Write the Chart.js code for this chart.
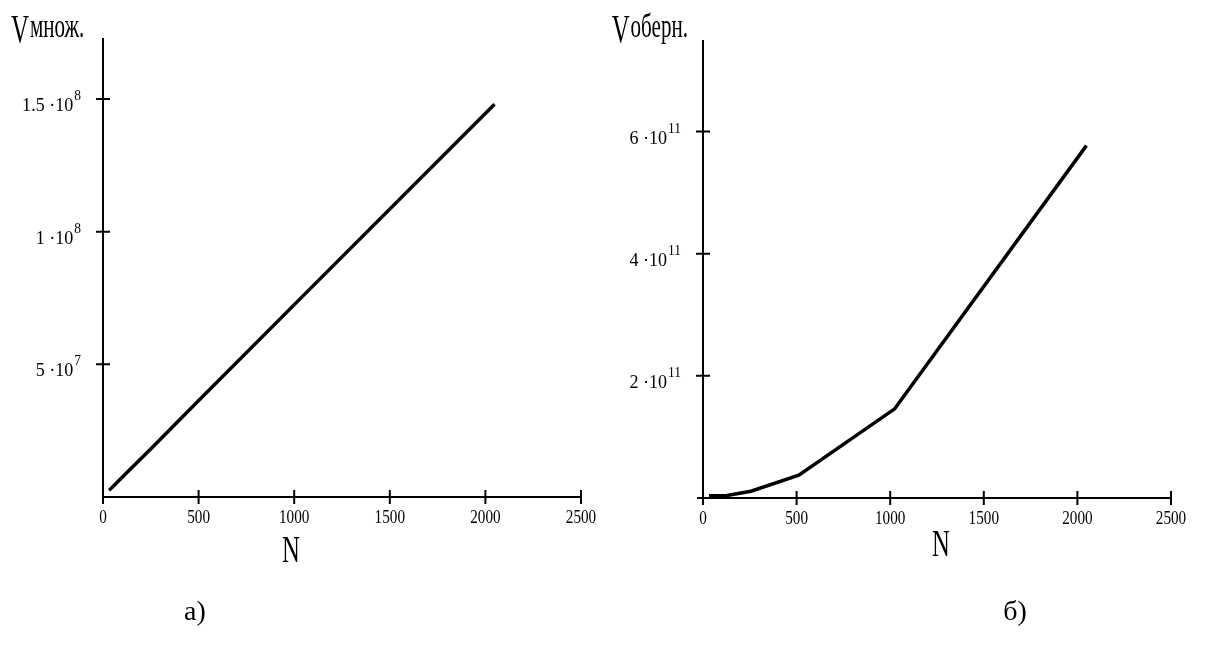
<!DOCTYPE html>
<html>
<head>
<meta charset="utf-8">
<script src="https://cdn.jsdelivr.net/npm/chart.js@4"></script>
<style>
  body { margin: 0; background: #fff; width: 1205px; height: 650px; overflow: hidden; position: relative; }
  .box { position: absolute; top: 0; height: 650px; }
</style>
</head>
<body>
<div class="box" style="left:0;width:600px"><canvas id="chartA" width="600" height="650"></canvas></div>
<div class="box" style="left:600px;width:605px"><canvas id="chartB" width="605" height="650"></canvas></div>
<script>
// N values (matrix size) and the two measured series
var nValues = [32, 64, 128, 256, 512, 1024, 2048];
var multValues = [2.5e6, 4.8e6, 9.4e6, 1.86e7, 3.72e7, 7.42e7, 1.48e8];
var invValues = [3.5e9, 3.6e9, 4.2e9, 1.1e10, 3.75e10, 1.46e11, 5.77e11];

// tick labels
var xTicks = [0, 500, 1000, 1500, 2000, 2500];
var multTicks = [5e7, 1e8, 1.5e8];
var multTickMant = ['5', '1', '1.5'];
var multTickExp = ['7', '8', '8'];
var invTicks = [2e11, 4e11, 6e11];
var invTickMant = ['2', '4', '6'];
var invTickExp = ['11', '11', '11'];

var SERIF = '"Liberation Serif", "Times New Roman", serif';

function txt(ctx, s, x, y, size, align, sx) {
  ctx.save();
  ctx.font = size + 'px ' + SERIF;
  ctx.textAlign = align;
  ctx.textBaseline = 'alphabetic';
  ctx.translate(x, y);
  ctx.scale(sx, 1);
  ctx.fillText(s, 0, 0);
  ctx.restore();
}

function wid(ctx, s, size, sx) {
  ctx.save();
  ctx.font = size + 'px ' + SERIF;
  var w = ctx.measureText(s).width * sx;
  ctx.restore();
  return w;
}

// draws Mathcad-like axes crossing at zero, ticks and all labels
function makeAxes(cfg) {
  return {
    id: 'mathAxes',
    afterDraw: function (chart) {
      var ctx = chart.ctx, xs = chart.scales.x, ys = chart.scales.y;
      var x0 = xs.getPixelForValue(0), y0 = ys.getPixelForValue(0);
      ctx.save();
      ctx.strokeStyle = '#000';
      ctx.fillStyle = '#000';
      ctx.lineWidth = 2;
      ctx.beginPath();
      ctx.moveTo(x0, ys.top); ctx.lineTo(x0, y0 + 1);
      ctx.moveTo(x0 - cfg.xOverhang, y0); ctx.lineTo(xs.right, y0);
      xTicks.forEach(function (v) {
        var px = xs.getPixelForValue(v);
        ctx.moveTo(px, y0 - 7); ctx.lineTo(px, y0 + 7);
      });
      cfg.yTicks.forEach(function (v) {
        var py = ys.getPixelForValue(v);
        ctx.moveTo(x0 - 7, py); ctx.lineTo(x0 + 7, py);
      });
      ctx.stroke();

      xTicks.forEach(function (v) {
        txt(ctx, String(v), xs.getPixelForValue(v), y0 + 26, 19, 'center', 0.8);
      });
      cfg.yTicks.forEach(function (v, i) {
        var py = ys.getPixelForValue(v);
        var right = x0 - 22;
        var we = wid(ctx, cfg.exp[i], 15, 0.9);
        txt(ctx, cfg.exp[i], right, py + 1, 15, 'right', 0.9);
        txt(ctx, cfg.mant[i] + ' \u00b710', right - we - 1, py + 12, 19, 'right', 0.95);
      });

      // axis title V with subscript word
      var wV = wid(ctx, 'V', 40, 0.62);
      var wS = wid(ctx, cfg.sub, 34, 0.62);
      var vx = cfg.titleRight != null ? cfg.titleRight - wV - wS : cfg.titleLeft;
      txt(ctx, 'V', vx, 42, 40, 'left', 0.62);
      txt(ctx, cfg.sub, vx + wV + 1, 37, 34, 'left', 0.62);

      txt(ctx, 'N', cfg.nX, cfg.nY, 38, 'center', 0.65);
      txt(ctx, cfg.caption, cfg.capX, 620, 28, 'center', 1);
      ctx.restore();
    }
  };
}

function build(id, values, yMax, pad, cfg) {
  var pts = nValues.map(function (n, i) { return { x: n, y: values[i] }; });
  return new Chart(document.getElementById(id), {
    type: 'line',
    data: {
      datasets: [{
        data: pts,
        borderColor: '#000',
        borderWidth: 3.5,
        pointRadius: 0,
        tension: 0,
        fill: false
      }]
    },
    options: {
      responsive: false,
      animation: false,
      layout: { padding: pad },
      plugins: { legend: { display: false }, tooltip: { enabled: false } },
      scales: {
        x: { type: 'linear', min: 0, max: 2500, display: false },
        y: { type: 'linear', min: 0, max: yMax, display: false }
      }
    },
    plugins: [makeAxes(cfg)]
  });
}

build('chartA', multValues, 1.73e8, { left: 103, right: 19, top: 38, bottom: 153 }, {
  yTicks: multTicks, mant: multTickMant, exp: multTickExp,
  xOverhang: 0, sub: 'множ.', titleLeft: 11,
  nX: 291, nY: 562, caption: 'а)', capX: 195
});

build('chartB', invValues, 7.5e11, { left: 103, right: 34, top: 40, bottom: 152 }, {
  yTicks: invTicks, mant: invTickMant, exp: invTickExp,
  xOverhang: 6, sub: 'оберн.', titleRight: 87,
  nX: 341, nY: 556, caption: 'б)', capX: 415
});
</script>
</body>
</html>
